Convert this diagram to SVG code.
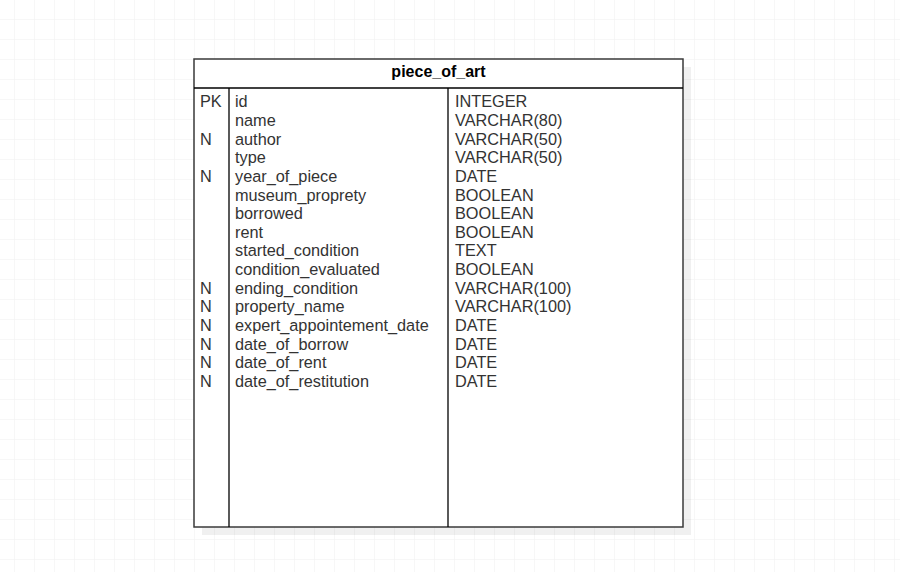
<svg xmlns="http://www.w3.org/2000/svg" width="900" height="572" viewBox="0 0 900 572">
<defs>
<pattern id="grid" x="14" y="19" width="20" height="20" patternUnits="userSpaceOnUse">
<path d="M0 0H20M0 0V20" fill="none" stroke="#efefef" stroke-width="1"/>
</pattern>
<style>
.t{font-family:"Liberation Sans",Arial,sans-serif;font-size:16.3px;fill:#333333}
.h{font-family:"Liberation Sans",Arial,sans-serif;font-size:16px;font-weight:bold;fill:#000000}
</style>
</defs>
<rect x="0" y="0" width="900" height="572" fill="#ffffff"/>
<rect x="0" y="0" width="900" height="572" fill="url(#grid)"/>
<g id="piece_of_art">
<rect x="202" y="67" width="489" height="468" fill="#000000" opacity="0.06"/>
<rect x="194" y="59" width="489" height="468" fill="#ffffff" stroke="#3a3a3a" stroke-width="1.5"/>
<line x1="194" y1="88" x2="683" y2="88" stroke="#000000" stroke-width="1.3"/>
<line x1="229" y1="88" x2="229" y2="527" stroke="#000000" stroke-width="1.3"/>
<line x1="448" y1="88" x2="448" y2="527" stroke="#000000" stroke-width="1.3"/>
<text class="h" x="438.5" y="77" text-anchor="middle">piece_of_art</text>
<g>
<text class="t" x="200" y="107.3">PK</text>
<text class="t" x="200" y="144.6">N</text>
<text class="t" x="200" y="181.8">N</text>
<text class="t" x="200" y="293.6">N</text>
<text class="t" x="200" y="312.2">N</text>
<text class="t" x="200" y="330.8">N</text>
<text class="t" x="200" y="349.5">N</text>
<text class="t" x="200" y="368.1">N</text>
<text class="t" x="200" y="386.7">N</text>
</g>
<g>
<text class="t" x="235" y="107.3">id</text>
<text class="t" x="235" y="125.9">name</text>
<text class="t" x="235" y="144.6">author</text>
<text class="t" x="235" y="163.2">type</text>
<text class="t" x="235" y="181.8">year_of_piece</text>
<text class="t" x="235" y="200.5">museum_proprety</text>
<text class="t" x="235" y="219.1">borrowed</text>
<text class="t" x="235" y="237.7">rent</text>
<text class="t" x="235" y="256.3">started_condition</text>
<text class="t" x="235" y="275.0">condition_evaluated</text>
<text class="t" x="235" y="293.6">ending_condition</text>
<text class="t" x="235" y="312.2">property_name</text>
<text class="t" x="235" y="330.8">expert_appointement_date</text>
<text class="t" x="235" y="349.5">date_of_borrow</text>
<text class="t" x="235" y="368.1">date_of_rent</text>
<text class="t" x="235" y="386.7">date_of_restitution</text>
</g>
<g>
<text class="t" x="455" y="107.3">INTEGER</text>
<text class="t" x="455" y="125.9">VARCHAR(80)</text>
<text class="t" x="455" y="144.6">VARCHAR(50)</text>
<text class="t" x="455" y="163.2">VARCHAR(50)</text>
<text class="t" x="455" y="181.8">DATE</text>
<text class="t" x="455" y="200.5">BOOLEAN</text>
<text class="t" x="455" y="219.1">BOOLEAN</text>
<text class="t" x="455" y="237.7">BOOLEAN</text>
<text class="t" x="455" y="256.3">TEXT</text>
<text class="t" x="455" y="275.0">BOOLEAN</text>
<text class="t" x="455" y="293.6">VARCHAR(100)</text>
<text class="t" x="455" y="312.2">VARCHAR(100)</text>
<text class="t" x="455" y="330.8">DATE</text>
<text class="t" x="455" y="349.5">DATE</text>
<text class="t" x="455" y="368.1">DATE</text>
<text class="t" x="455" y="386.7">DATE</text>
</g>
</g>
<g id="connectors"></g>
</svg>
